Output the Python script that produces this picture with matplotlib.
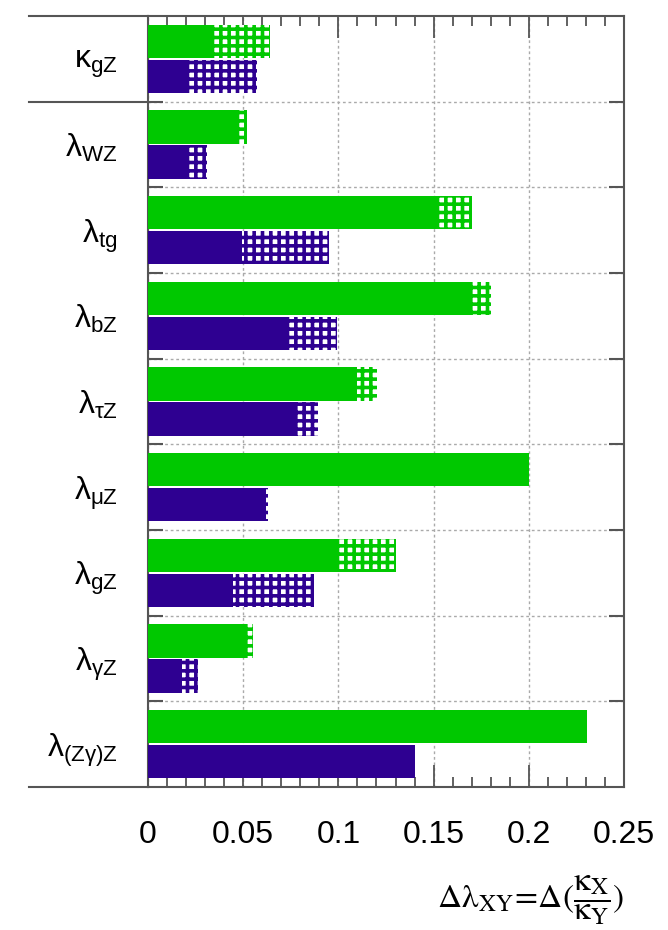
import numpy as np
import matplotlib
matplotlib.use("Agg")
import matplotlib.pyplot as plt
from matplotlib.ticker import MultipleLocator

# couplings (top to bottom)
labels = [r"$\kappa_{gZ}$", r"$\lambda_{WZ}$", r"$\lambda_{tg}$", r"$\lambda_{bZ}$",
          r"$\lambda_{\tau Z}$", r"$\lambda_{\mu Z}$", r"$\lambda_{gZ}$",
          r"$\lambda_{\gamma Z}$", r"$\lambda_{(Z\gamma)Z}$"]
# green series: solid part and full length (solid + hatched)
green_solid = [0.0347, 0.046, 0.151, 0.1695, 0.110, 0.200, 0.1005, 0.051, 0.2305]
green_total = [0.064, 0.052, 0.170, 0.180, 0.1205, 0.200, 0.130, 0.055, 0.2305]
# purple series
purple_solid = [0.021, 0.021, 0.0495, 0.074, 0.078, 0.062, 0.0447, 0.0178, 0.140]
purple_total = [0.057, 0.031, 0.095, 0.0995, 0.0895, 0.063, 0.0874, 0.026, 0.140]

xticks = [0, 0.05, 0.1, 0.15, 0.2, 0.25]
xticklabels = ["0", "0.05", "0.1", "0.15", "0.2", "0.25"]

GREEN = "#00c800"
PURPLE = "#2e0091"
FRAME = "#555555"

plt.rcParams["font.family"] = ["Liberation Sans", "DejaVu Sans"]
plt.rcParams["mathtext.fontset"] = "custom"
plt.rcParams["mathtext.rm"] = "Liberation Sans"
plt.rcParams["mathtext.it"] = "Liberation Sans"
plt.rcParams["mathtext.bf"] = "Liberation Sans:bold"
plt.rcParams["hatch.linewidth"] = 2.6

fig = plt.figure(figsize=(6.68, 9.30), dpi=100)
ax = fig.add_axes([148/668, 1 - 787/930, 476/668, 771/930])

y = np.arange(len(labels))
h = 0.39
off = 0.205

# solid parts
ax.barh(y - off, green_solid, height=h, color=GREEN, linewidth=0, zorder=3)
ax.barh(y + off, purple_solid, height=h, color=PURPLE, linewidth=0, zorder=3)
# hatched parts
g_extra = np.array(green_total) - np.array(green_solid)
p_extra = np.array(purple_total) - np.array(purple_solid)
ax.barh(y - off, g_extra, left=green_solid, height=h, facecolor="white",
        edgecolor=GREEN, hatch="++", linewidth=0, zorder=3)
ax.barh(y + off, p_extra, left=purple_solid, height=h, facecolor="white",
        edgecolor=PURPLE, hatch="++", linewidth=0, zorder=3)

ax.set_xlim(0, 0.25)
ax.set_ylim(len(labels) - 0.5, -0.5)

ax.set_xticks(xticks, xticklabels, fontsize=23)
ax.xaxis.set_minor_locator(MultipleLocator(0.01))
ax.set_yticks(y, labels, fontsize=23)
ax.set_yticks(y[:-1] + 0.5, minor=True)

ax.tick_params(axis="x", which="major", direction="in", top=True, bottom=True,
               length=16, width=1.3, color=FRAME, pad=24)
ax.tick_params(axis="x", which="minor", direction="in", top=True, bottom=True,
               length=7, width=1.3, color=FRAME)
ax.tick_params(axis="y", which="major", length=0, pad=22)
ax.tick_params(axis="y", which="minor", direction="in", left=True, right=True,
               length=11, width=1.5, color=FRAME)

ax.grid(True, axis="x", which="major", ls=(0, (2, 2)), color="#aaaaaa", lw=1)
ax.grid(True, axis="y", which="minor", ls=(0, (2, 2)), color="#aaaaaa", lw=1)
ax.set_axisbelow(True)

for s in ax.spines.values():
    s.set_color(FRAME)
    s.set_linewidth(1.5)

# frame lines running into the label column
x0 = (29 - 148) / 476
for yy in (-0.5, 0.5, len(labels) - 0.5):
    ax.plot([x0, 0], [yy, yy], transform=ax.get_yaxis_transform(), color=FRAME,
            lw=1.5, clip_on=False, zorder=5)

fig.text(624/668, 1 - 900/930,
         r"$\mathrm{\Delta\lambda_{XY}\!=\!\Delta(\dfrac{\kappa_X}{\kappa_Y})}$",
         ha="right", va="center", fontsize=24, math_fontfamily="stix")

fig.savefig("out.png", dpi=100)
